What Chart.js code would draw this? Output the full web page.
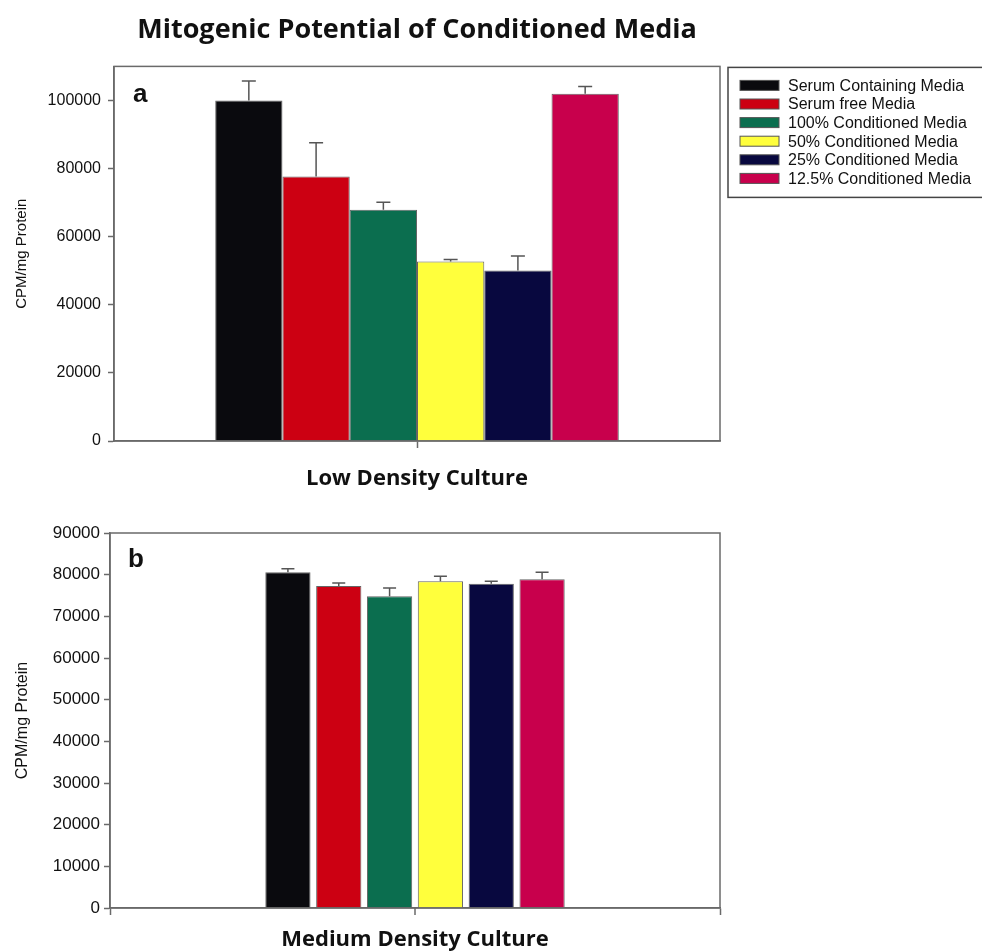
<!DOCTYPE html>
<html>
<head>
<meta charset="utf-8">
<script src="https://cdn.jsdelivr.net/npm/chart.js@4.4.1/dist/chart.umd.min.js"></script>
<style>
  html, body { margin: 0; padding: 0; background: #ffffff; }
  #wrap { position: relative; width: 982px; height: 952px; overflow: hidden; }
  .panel { position: absolute; left: 0; width: 982px; }
</style>
</head>
<body>
<div id="wrap">
  <div class="panel" style="top:0; height:501px;"><canvas id="lowChart" width="982" height="501"></canvas></div>
  <div class="panel" style="top:500px; height:452px;"><canvas id="mediumChart" width="982" height="452"></canvas></div>
</div>
<script>
// Treatment groups, in bar order
const seriesNames = [
  'Serum Containing Media',
  'Serum free Media',
  '100% Conditioned Media',
  '50% Conditioned Media',
  '25% Conditioned Media',
  '12.5% Conditioned Media'
];
const seriesColors = ['#0a0a0e', '#cc0012', '#0b6e4f', '#ffff3c', '#08083f', '#c8004c'];

// Low density culture: mean CPM/mg protein and upper error
const lowCategory = ['Low Density Culture'];
const lowValues = [100000, 77700, 67900, 52700, 50100, 102000];
const lowErrors = [5700, 9900, 2200, 600, 4200, 2100];
const lowTicks = [0, 20000, 40000, 60000, 80000, 100000];

// Medium density culture
const mediumCategory = ['Medium Density Culture'];
const mediumValues = [80600, 77300, 74800, 78400, 77800, 78900];
const mediumErrors = [800, 700, 2000, 1200, 600, 1700];
const mediumTicks = [0, 10000, 20000, 30000, 40000, 50000, 60000, 70000, 80000, 90000];

const AXIS = '#6a6a6a';
const TEXT = '#111111';
const SANS = '"Liberation Sans", Arial, sans-serif';
const HEAD = '"Open Sans", Lato, sans-serif';

// Upper error whiskers drawn from each bar top
const errorBars = {
  id: 'errorBars',
  afterDatasetsDraw(chart, args, opts) {
    const { ctx } = chart;
    const yScale = chart.scales.y;
    ctx.save();
    ctx.strokeStyle = '#555555';
    ctx.lineWidth = 1.5;
    chart.data.datasets.forEach((ds, i) => {
      const bar = chart.getDatasetMeta(i).data[0];
      if (!bar) return;
      const v = ds.data[0];
      const yTop = yScale.getPixelForValue(v);
      const yErr = yScale.getPixelForValue(v + opts.errors[i]);
      const half = opts.cap / 2;
      ctx.beginPath();
      ctx.moveTo(bar.x, yTop);
      ctx.lineTo(bar.x, yErr);
      ctx.moveTo(bar.x - half, yErr);
      ctx.lineTo(bar.x + half, yErr);
      ctx.stroke();
    });
    ctx.restore();
  }
};

// Frame around the plotting area
const plotFrame = {
  id: 'plotFrame',
  afterDraw(chart) {
    const { ctx, chartArea: a } = chart;
    ctx.save();
    ctx.strokeStyle = AXIS;
    ctx.lineWidth = 1.5;
    ctx.strokeRect(a.left, a.top, a.right - a.left, a.bottom - a.top);
    ctx.restore();
  }
};

// Panel letter in the upper-left corner of the plot
const panelLetter = {
  id: 'panelLetter',
  afterDraw(chart, args, opts) {
    const { ctx, chartArea: a } = chart;
    ctx.save();
    ctx.fillStyle = TEXT;
    ctx.font = 'bold 26px ' + SANS;
    ctx.textBaseline = 'alphabetic';
    ctx.textAlign = 'left';
    ctx.fillText(opts.text, a.left + opts.dx, a.top + opts.dy);
    ctx.restore();
  }
};

// Extra tick mark under the middle of the category axis
const centerTick = {
  id: 'centerTick',
  afterDraw(chart, args, opts) {
    if (!opts.show) return;
    const { ctx } = chart;
    const x = chart.scales.x;
    const px = x.getPixelForValue(0);
    ctx.save();
    ctx.strokeStyle = AXIS;
    ctx.lineWidth = 1.5;
    ctx.beginPath();
    ctx.moveTo(px, x.top);
    ctx.lineTo(px, x.top + 7);
    ctx.stroke();
    ctx.restore();
  }
};

// Boxed legend to the right of the plot
const boxLegend = {
  id: 'boxLegend',
  afterDraw(chart, args, opts) {
    if (!opts.show) return;
    const { ctx, chartArea: a } = chart;
    const x0 = a.right + 8;
    const y0 = a.top + 1;
    ctx.save();
    ctx.strokeStyle = '#444444';
    ctx.lineWidth = 1.5;
    ctx.strokeRect(x0, y0, chart.width - x0 + 6, 130);
    ctx.font = '16px ' + SANS;
    ctx.textBaseline = 'middle';
    ctx.textAlign = 'left';
    chart.data.datasets.forEach((ds, i) => {
      const y = y0 + 18 + i * 18.6;
      ctx.fillStyle = ds.backgroundColor;
      ctx.fillRect(x0 + 12, y - 5, 39, 10);
      ctx.strokeStyle = '#555555';
      ctx.lineWidth = 1;
      ctx.strokeRect(x0 + 12, y - 5, 39, 10);
      ctx.fillStyle = TEXT;
      ctx.fillText(ds.label, x0 + 60, y + 1);
    });
    ctx.restore();
  }
};

function makeDatasets(values) {
  return seriesNames.map((name, i) => ({
    label: name,
    data: [values[i]],
    backgroundColor: seriesColors[i],
    borderColor: 'rgba(50,50,50,0.75)',
    borderWidth: 1
  }));
}

function yAxis(max, ticks, width, tickSize, titleSize, tickPad, titlePad) {
  return {
    min: 0,
    max: max,
    afterBuildTicks: s => { s.ticks = ticks.map(v => ({ value: v })); },
    afterFit: s => { s.width = width; },
    border: { display: true, color: AXIS, width: 1.5 },
    grid: { display: true, drawOnChartArea: false, drawTicks: true, tickLength: 6, tickColor: AXIS, tickWidth: 1.5 },
    ticks: {
      font: { family: SANS, size: tickSize }, color: TEXT, padding: tickPad,
      callback: v => String(v)
    },
    title: {
      display: true, text: 'CPM/mg Protein', color: TEXT,
      font: { family: SANS, size: titleSize },
      padding: { top: titlePad, bottom: 0 }
    }
  };
}

function xAxis(height, gridOffset, labelSize, labelPad) {
  return {
    offset: true,
    afterFit: s => { s.height = height; },
    border: { display: true, color: AXIS, width: 1.5 },
    grid: { display: true, offset: gridOffset, drawOnChartArea: false, drawTicks: true, tickLength: 7, tickColor: AXIS, tickWidth: 1.5 },
    ticks: { font: { family: HEAD, size: labelSize, weight: 'bold' }, color: TEXT, padding: labelPad, maxRotation: 0 }
  };
}

Chart.defaults.animation = false;

new Chart(document.getElementById('lowChart'), {
  type: 'bar',
  data: { labels: lowCategory, datasets: makeDatasets(lowValues) },
  plugins: [errorBars, plotFrame, panelLetter, centerTick, boxLegend],
  options: {
    responsive: false,
    layout: { padding: { top: 0, right: 262, bottom: 0, left: 0 } },
    datasets: { bar: { categoryPercentage: 0.666, barPercentage: 1.0 } },
    scales: {
      x: xAxis(60, false, 22, 18),
      y: yAxis(110000, lowTicks, 114, 16, 15, 7, 13)
    },
    plugins: {
      legend: { display: false },
      tooltip: { enabled: false },
      title: {
        display: true, fullSize: false,
        text: 'Mitogenic Potential of Conditioned Media',
        color: TEXT,
        font: { family: HEAD, size: 27, weight: 'bold', lineHeight: 1.2 },
        padding: { top: 14, bottom: 20 }
      },
      errorBars: { errors: lowErrors, cap: 14 },
      panelLetter: { text: 'a', dx: 19, dy: 36 },
      centerTick: { show: false },
      boxLegend: { show: true }
    }
  }
});

new Chart(document.getElementById('mediumChart'), {
  type: 'bar',
  data: { labels: mediumCategory, datasets: makeDatasets(mediumValues) },
  plugins: [errorBars, plotFrame, panelLetter, centerTick, boxLegend],
  options: {
    responsive: false,
    layout: { padding: { top: 33, right: 262, bottom: 0, left: 0 } },
    datasets: { bar: { categoryPercentage: 0.5, barPercentage: 0.89 } },
    scales: {
      x: xAxis(44, true, 22, 12),
      y: yAxis(90000, mediumTicks, 110, 17, 16, 4, 13)
    },
    plugins: {
      legend: { display: false },
      tooltip: { enabled: false },
      title: { display: false },
      errorBars: { errors: mediumErrors, cap: 13 },
      panelLetter: { text: 'b', dx: 18, dy: 34 },
      centerTick: { show: true },
      boxLegend: { show: false }
    }
  }
});
</script>
</body>
</html>
